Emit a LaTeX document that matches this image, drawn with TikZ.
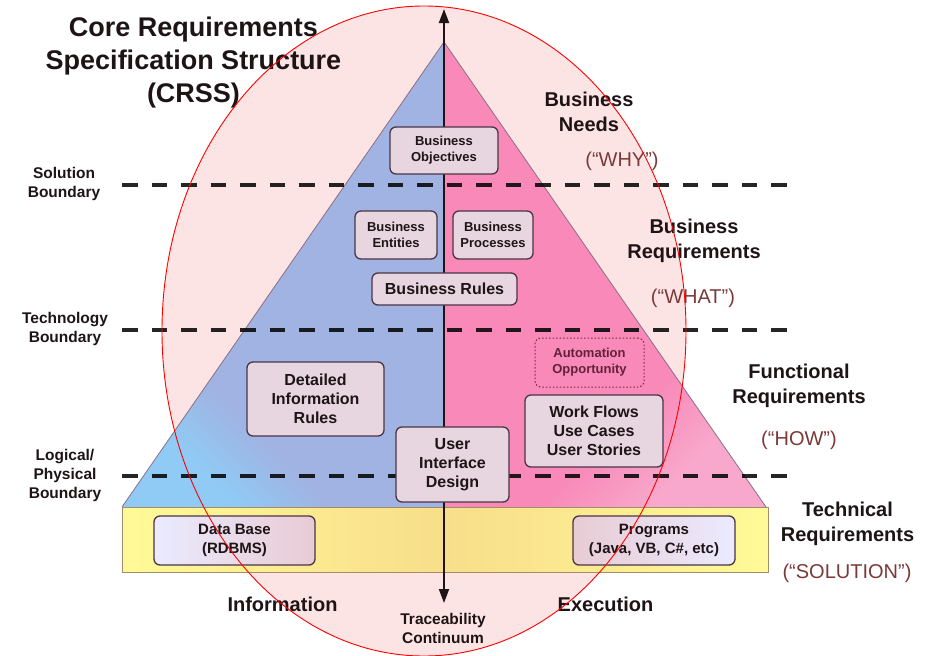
\documentclass[tikz,border=0pt]{standalone}
\usepackage{fontspec}
\setmainfont{Liberation Sans}
\usetikzlibrary{arrows.meta}
\definecolor{ellfill}{HTML}{FDE4E4}
\definecolor{blueM}{HTML}{A0B3E2}
\definecolor{blueL}{HTML}{8FCBF5}
\definecolor{pinkM}{HTML}{F889B8}
\definecolor{pinkL}{HTML}{F8A8CC}
\definecolor{yelL}{HTML}{FFFA98}
\definecolor{yelM}{HTML}{F8DE8A}
\definecolor{boxfill}{HTML}{E7D6DF}
\definecolor{boxdraw}{HTML}{4B3447}
\definecolor{labred}{HTML}{7A3A3A}
\definecolor{txt}{HTML}{1E1416}
\definecolor{edgecol}{HTML}{8C6F85}
\definecolor{aocol}{HTML}{7A2A4A}
\pgfdeclareverticalshading{bluecorner}{100bp}{color(0bp)=(blueL); color(25bp)=(blueL); color(33bp)=(blueM); color(100bp)=(blueM)}
\pgfdeclareverticalshading{pinkcorner}{100bp}{color(0bp)=(pinkL); color(25bp)=(pinkL); color(35bp)=(pinkM); color(100bp)=(pinkM)}
\begin{document}
\begin{tikzpicture}[x=1pt,y=-1pt,
  box/.style={draw=boxdraw, line width=1.3pt, rounded corners=6pt, fill=boxfill, align=center, text=txt, inner sep=0pt, font=\bfseries\fontsize{16}{19}\selectfont},
  smallbox/.style={box, font=\bfseries\fontsize{13}{16}\selectfont},
  botbox/.style={box, font=\bfseries\fontsize{15}{19}\selectfont},
  bound/.style={draw=black, draw opacity=0.85, line width=3.2pt, dash pattern=on 15.5pt off 14pt},
  lbl/.style={align=center, text=txt, font=\bfseries\fontsize{15.5}{19}\selectfont},
  rlbl/.style={align=center, text=txt, font=\bfseries\fontsize{20}{25}\selectfont},
  qlbl/.style={text=labred, font=\fontsize{20}{24}\selectfont},
  edge/.style={draw=edgecol, line width=0.8pt},
]
\useasboundingbox (0,0) rectangle (938,656);
\fill[ellfill] (424,331) ellipse [x radius=262, y radius=325];

% pyramid
\coordinate (apex) at (444,42);
\coordinate (bl) at (122,507);
\coordinate (bm) at (444,507);
\coordinate (br) at (766,507);
\shade[shading=bluecorner, shading angle=-45] (apex) -- (bl) -- (bm) -- cycle;
\shade[shading=pinkcorner, shading angle=45] (apex) -- (br) -- (bm) -- cycle;
\draw[edge] (bl) -- (apex) -- (br);

% technical band
\coordinate (yl) at (122,507);
\coordinate (yr) at (768,572);
\shade[left color=yelL, right color=yelL, middle color=yelM] (yl) rectangle (yr);
\draw[draw=edgecol!80!yellow, line width=0.8pt] (yl) rectangle (yr);

% boundaries
\coordinate (d1a) at (122,185); \coordinate (d1b) at (787,185);
\coordinate (d2a) at (122,330); \coordinate (d2b) at (787,330);
\coordinate (d3a) at (122,476); \coordinate (d3b) at (787,476);
\draw[bound] (d1a) -- (d1b);
\draw[bound] (d2a) -- (d2b);
\draw[bound] (d3a) -- (d3b);

% traceability axis
\coordinate (axtop) at (444,9);
\coordinate (axbot) at (444,603);
\draw[draw=txt, line width=2pt, {Triangle[length=14pt,width=10pt]}-{Triangle[length=14pt,width=10pt]}] (axbot) -- (axtop);

% boxes
\node[smallbox, minimum width=108pt, minimum height=47pt] (bo) at (444,150.5) {Business\\Objectives};
\node[smallbox, minimum width=82pt, minimum height=48pt] (be) at (396,235) {Business\\Entities};
\node[smallbox, minimum width=80pt, minimum height=48pt] (bp) at (493,235) {Business\\Processes};
\node[box, minimum width=145pt, minimum height=32pt] (brl) at (444.5,289) {Business Rules};
\node[box, minimum width=137pt, minimum height=74pt] (dir) at (315.5,399) {Detailed\\Information\\Rules};
\node[box, minimum width=113pt, minimum height=75pt] (uid) at (452.5,464.5) {User\\Interface\\Design};
\node[smallbox, fill=none, draw=aocol, line width=1pt, dash pattern=on 1.5pt off 2pt, text=aocol!80!black, minimum width=109pt, minimum height=49pt] (ao) at (589.5,362.5) {Automation\\Opportunity};
\node[box, minimum width=138pt, minimum height=72pt] (wf) at (594,431) {Work Flows\\Use Cases\\User Stories};
\node[botbox, left color=blue!8!white, right color=boxfill!95!red, minimum width=161pt, minimum height=49pt] (db) at (234.5,540.5) {Data Base\\(RDBMS)};
\node[botbox, left color=boxfill!95!red, right color=blue!8!white, minimum width=162pt, minimum height=49pt] (pr) at (654,540.5) {Programs\\(Java, VB, C\#, etc)};

% titles and labels
\node[align=center, text=txt, font=\bfseries\fontsize{27}{33}\selectfont] (title) at (193.5,63) {Core Requirements\\Specification Structure\\(CRSS)};
\node[lbl] (sol) at (64,184) {Solution\\Boundary};
\node[lbl] (tech) at (65,329) {Technology\\Boundary};
\node[lbl] (logi) at (65,475) {Logical/\\Physical\\Boundary};

\node[rlbl] (bn) at (589,112) {Business\\Needs};
\node[qlbl] (why) at (622,161) {(“WHY”)};
\node[rlbl] (breq) at (694,240.5) {Business\\Requirements};
\node[qlbl] (what) at (693,298) {(“WHAT”)};
\node[rlbl] (freq) at (799,385.5) {Functional\\Requirements};
\node[qlbl] (how) at (799,440) {(“HOW”)};
\node[rlbl] (treq) at (847.5,523.5) {Technical\\Requirements};
\node[qlbl] (solu) at (847,573) {(“SOLUTION”)};

\node[text=txt, font=\bfseries\fontsize{20}{24}\selectfont] (info) at (282.5,604) {Information};
\node[text=txt, font=\bfseries\fontsize{20}{24}\selectfont] (exec) at (605.5,604) {Execution};
\node[align=center, text=txt, font=\bfseries\fontsize{15.5}{19}\selectfont] (trace) at (443,628.5) {Traceability\\Continuum};

% overlay outline
\draw[red, line width=0.9pt] (424,331) ellipse [x radius=262, y radius=325];
\end{tikzpicture}
\end{document}
